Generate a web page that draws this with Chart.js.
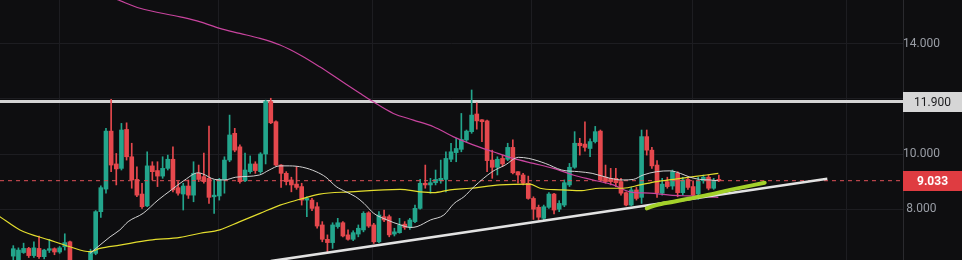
<!DOCTYPE html>
<html>
<head>
<meta charset="utf-8">
<script src="https://cdn.jsdelivr.net/npm/chart.js@4.4.1/dist/chart.umd.min.js"></script>
<style>
  html, body { margin: 0; padding: 0; background: #0e0e10; }
  canvas { display: block; }
</style>
</head>
<body>
<canvas id="chart" width="962" height="260"></canvas>
<script>
// Daily candles (index 0 = first candle on the left)
const opens = [6.30, 6.10, 6.43, 6.58, 6.32, 6.58, 6.28, 6.51, 6.57, 6.45,
  6.64, 6.82, 6.00, 5.80, 5.70, 6.00, 6.40, 7.91, 8.73, 10.83,
  9.64, 9.48, 10.89, 9.90, 9.08, 8.55, 8.12, 9.57, 9.40, 9.20,
  9.48, 9.81, 8.78, 8.55, 8.84, 8.51, 9.30, 9.18, 9.12, 8.45,
  8.48, 9.08, 9.78, 10.75, 10.26, 9.03, 9.36, 9.64, 9.36, 10.00,
  11.90, 11.17, 9.60, 9.30, 9.06, 8.91, 8.82, 8.33, 8.33, 8.09,
  7.43, 6.91, 6.79, 7.37, 7.51, 7.07, 6.91, 7.10, 7.25, 7.87,
  7.43, 6.82, 7.73, 7.73, 7.10, 7.15, 7.46, 7.34, 7.55, 8.03,
  8.94, 8.88, 8.96, 9.03, 9.08, 9.81, 10.05, 10.17, 10.51, 10.81,
  11.45, 11.24, 11.20, 9.78, 9.52, 9.84, 9.81, 10.24, 9.36, 9.24,
  8.94, 8.39, 8.07, 7.67, 8.07, 8.55, 8.00, 8.15, 8.88, 9.52,
  10.39, 10.36, 10.20, 10.45, 10.83, 9.16, 9.12, 9.12, 9.00, 8.60,
  8.15, 8.70, 8.43, 10.63, 10.14, 9.60, 8.58, 9.00, 8.84, 9.30,
  8.60, 9.08, 8.82, 8.55, 9.03, 9.16, 8.76, 9.08];
const highs = [6.68, 6.60, 6.77, 6.62, 6.82, 7.03, 6.55, 6.91, 6.60, 6.65,
  7.11, 6.85, 6.05, 5.95, 6.00, 6.55, 7.95, 8.85, 10.93, 11.98,
  10.02, 11.11, 11.13, 10.39, 9.54, 8.94, 10.08, 9.72, 9.72, 9.90,
  9.96, 10.26, 9.00, 8.94, 9.06, 9.72, 9.60, 10.03, 11.01, 9.06,
  9.12, 9.90, 11.41, 10.93, 10.33, 10.03, 9.93, 9.72, 10.05, 11.95,
  12.02, 11.20, 9.62, 9.36, 9.16, 9.54, 8.94, 8.45, 8.39, 8.24,
  7.55, 7.07, 7.51, 7.67, 7.55, 7.25, 7.22, 7.43, 7.91, 7.91,
  7.49, 7.91, 7.97, 7.79, 7.31, 7.67, 7.55, 7.67, 8.15, 9.08,
  9.60, 9.12, 9.42, 9.78, 10.08, 10.39, 10.57, 11.47, 10.87, 12.32,
  11.85, 11.25, 11.23, 10.14, 9.90, 9.96, 10.39, 10.51, 9.36, 9.30,
  9.20, 8.45, 8.15, 8.15, 8.60, 8.58, 8.31, 9.06, 9.66, 10.81,
  10.57, 11.17, 10.55, 11.00, 10.87, 9.60, 9.48, 9.48, 9.12, 8.63,
  8.79, 8.79, 10.87, 10.87, 10.24, 9.76, 9.12, 9.16, 9.42, 9.36,
  9.16, 9.16, 9.03, 9.16, 9.24, 9.24, 9.12, 9.24];
const lows = [6.00, 6.00, 6.40, 6.25, 6.25, 6.22, 6.20, 6.43, 6.35, 6.40,
  6.52, 5.90, 5.60, 5.50, 5.60, 5.90, 6.35, 7.70, 8.58, 9.36,
  8.88, 9.42, 9.78, 8.76, 8.45, 8.03, 8.09, 9.06, 8.82, 9.12,
  9.42, 8.63, 8.51, 7.97, 8.39, 8.27, 9.00, 8.94, 8.21, 7.85,
  8.33, 8.58, 9.72, 10.08, 8.94, 9.00, 9.30, 9.30, 9.30, 9.64,
  11.10, 9.57, 8.79, 8.88, 8.63, 8.72, 8.15, 7.73, 7.95, 7.31,
  6.82, 6.43, 6.58, 7.31, 7.00, 6.88, 6.86, 7.00, 7.18, 7.34,
  6.76, 6.79, 7.55, 7.00, 7.03, 7.13, 7.27, 7.27, 7.51, 8.00,
  8.76, 8.58, 8.88, 8.94, 8.63, 9.72, 9.72, 10.08, 10.45, 10.75,
  10.90, 10.45, 9.36, 9.12, 9.24, 9.54, 9.76, 9.28, 8.94, 8.88,
  8.36, 7.63, 7.61, 7.61, 8.03, 7.83, 7.91, 8.09, 8.82, 9.48,
  9.96, 10.10, 9.90, 10.40, 9.00, 8.94, 8.88, 8.82, 8.51, 8.12,
  8.12, 8.33, 8.21, 9.96, 9.48, 8.43, 8.51, 8.76, 8.72, 8.45,
  8.51, 8.72, 8.45, 8.36, 8.94, 8.70, 8.72, 9.00];
const closes = [6.57, 6.52, 6.58, 6.32, 6.60, 6.28, 6.52, 6.57, 6.45, 6.60,
  6.79, 6.00, 5.80, 5.70, 5.90, 6.46, 7.91, 8.78, 10.83, 9.60,
  9.46, 10.87, 9.90, 9.06, 8.51, 8.09, 9.57, 9.36, 9.20, 9.48,
  9.81, 8.70, 8.58, 8.84, 8.51, 9.30, 9.08, 9.00, 8.43, 8.51,
  9.08, 9.78, 10.69, 10.14, 9.00, 9.42, 9.64, 9.40, 10.00, 11.90,
  11.13, 9.60, 9.30, 9.00, 8.88, 8.79, 8.33, 8.39, 8.03, 7.39,
  6.91, 6.79, 7.43, 7.51, 7.03, 6.91, 7.15, 7.31, 7.85, 7.39,
  6.82, 7.79, 7.61, 7.07, 7.18, 7.43, 7.34, 7.61, 8.03, 8.94,
  8.88, 8.96, 9.08, 9.12, 9.84, 10.08, 10.20, 10.53, 10.83, 11.41,
  11.20, 11.17, 9.76, 9.52, 9.81, 9.64, 10.24, 9.32, 9.24, 8.94,
  8.39, 8.00, 7.71, 8.09, 8.55, 7.97, 8.21, 8.96, 9.52, 10.39,
  10.30, 10.24, 10.45, 10.81, 9.06, 9.00, 9.00, 8.96, 8.58, 8.15,
  8.70, 8.39, 10.63, 10.14, 9.57, 8.60, 8.91, 8.82, 9.36, 8.60,
  9.06, 8.79, 8.51, 9.03, 9.16, 8.76, 9.03, 9.033];

// Moving averages as [candle index, price]
const maFast = [[14.9, 6.40], [18.8, 7.00], [20.7, 7.25], [22.3, 7.55], [25.2, 7.85],
  [28.1, 8.33], [30.7, 8.70], [33.3, 9.06], [35.9, 9.32], [36.8, 9.28], [39.1, 9.08],
  [41.0, 9.06], [43.2, 9.16], [47.8, 9.24], [49.7, 9.42], [51.7, 9.57], [53.6, 9.57],
  [56.2, 9.52], [58.8, 9.36], [60.7, 9.16], [62.7, 8.82], [64.6, 8.63], [66.5, 8.45],
  [68.1, 8.21], [70.0, 7.85], [72.6, 7.61], [75.2, 7.43], [77.2, 7.34], [78.4, 7.37],
  [81.0, 7.61], [83.6, 7.79], [85.6, 8.21], [87.5, 8.45], [89.5, 8.82], [93.0, 9.36],
  [95.5, 9.60], [98.1, 9.88], [100.1, 9.84], [103.3, 9.66], [106.5, 9.42], [109.8, 9.36],
  [112.4, 9.30], [115.9, 9.12], [118.4, 9.06], [120.4, 9.08], [122.3, 9.24], [124.9, 9.36],
  [127.5, 9.39], [129.5, 9.30], [131.4, 9.16], [133.3, 9.08], [135.3, 9.06], [136.9, 9.03]];
const maMid = [[-2.6, 7.73], [1.3, 7.25], [7.1, 6.88], [11.0, 6.64], [14.9, 6.46],
  [16.8, 6.58], [20.7, 6.70], [26.5, 6.88], [32.4, 6.98], [36.3, 7.13], [40.1, 7.25],
  [44.0, 7.55], [47.9, 7.85], [51.8, 8.15], [55.7, 8.36], [59.5, 8.55], [65.4, 8.63],
  [75.1, 8.72], [79.0, 8.63], [81.6, 8.60], [84.8, 8.70], [88.7, 8.76], [94.5, 8.88],
  [100.3, 8.91], [102.3, 8.76], [106.2, 8.70], [110.0, 8.67], [113.9, 8.76], [118.4, 8.76],
  [121.7, 8.88], [124.9, 9.00], [128.2, 9.08], [131.4, 9.16], [134.6, 9.24], [136.9, 9.30]];
const maSlow = [[-2.6, 17.21], [20.4, 15.58], [24.6, 15.28], [32.4, 14.97], [36.3, 14.79],
  [40.1, 14.55], [44.0, 14.37], [47.9, 14.19], [51.8, 13.95], [55.7, 13.59], [59.5, 13.16],
  [63.4, 12.68], [67.3, 12.20], [69.9, 11.89], [73.8, 11.47], [77.7, 11.23], [81.6, 10.99],
  [85.4, 10.63], [89.3, 10.33], [93.2, 10.08], [97.1, 9.84], [101.0, 9.66], [104.9, 9.48],
  [108.7, 9.24], [112.6, 9.06], [116.5, 8.88], [119.7, 8.63], [123.6, 8.58], [127.5, 8.51],
  [131.4, 8.48], [135.3, 8.45], [136.9, 8.43]];

// Drawings on the chart
const resistance = 11.9;
const lastPrice = 9.033;
const trendLine = [[50, 6.12], [158.06, 9.105]];
const brushLine = [[123.0, 8.03], [124.9, 8.15], [128.2, 8.27], [131.4, 8.39],
  [134.6, 8.51], [139.2, 8.70], [145.9, 8.96]];

// Axis ticks
const priceTicks = [8, 10, 12, 14];
const monthGrid = [9.07, 39.94, 69.84, 100.72, 131.79, 161.88];
const xMin = -2.58, xMax = 172.76;
const yMin = 6.16, yMax = 15.58;

const UP = '#23a58c';
const DOWN = '#e5484d';

const toPoints = pairs => pairs.map(([x, y]) => ({ x, y }));
const candleColors = opens.map((o, i) => closes[i] >= o ? UP : DOWN);

function lineSet(points, color, width, order, extra) {
  return Object.assign({
    type: 'line',
    data: toPoints(points),
    borderColor: color,
    borderWidth: width,
    pointRadius: 0,
    tension: 0.4,
    cubicInterpolationMode: 'monotone',
    order: order
  }, extra || {});
}

// Price tags drawn on the right scale for the two horizontal levels
function drawTag(chart, value, bg, fg, weight) {
  const { ctx, chartArea, scales } = chart;
  const yPix = scales.y.getPixelForValue(value);
  const left = chartArea.right;
  const w = chart.width - left;
  ctx.save();
  ctx.fillStyle = bg;
  ctx.fillRect(left, Math.round(yPix) - 10, w, 20);
  ctx.fillStyle = fg;
  ctx.font = weight + ' 12px Roboto';
  ctx.textAlign = 'center';
  ctx.textBaseline = 'middle';
  ctx.fillText(value.toFixed(3), left + w / 2, Math.round(yPix) + 0.5);
  ctx.restore();
}

const priceTags = {
  id: 'priceTags',
  afterDraw(chart) {
    drawTag(chart, resistance, '#d6d6d6', '#1b1b1d', 'normal');
    drawTag(chart, lastPrice, '#df3c41', '#ffffff', 'bold');
  }
};

// Keep the plot flush with the canvas edges
function noPadding(s) {
  s.paddingTop = 0;
  s.paddingBottom = 0;
  s.paddingLeft = 0;
  s.paddingRight = 0;
}

const datasets = [
  lineSet(brushLine, '#a3d12a', 4, 0, { borderCapStyle: 'round', tension: 0.3 }),
  lineSet(trendLine, '#e2e2e2', 2.5, 1, { tension: 0 }),
  lineSet(maFast, '#d2d2d2', 1, 2),
  lineSet(maMid, '#e3dd2e', 1.2, 3),
  lineSet(maSlow, '#c8449e', 1.2, 4),
  lineSet([[xMin, lastPrice], [xMax, lastPrice]], '#e05258', 1, 5, { tension: 0, borderDash: [4, 4] }),
  {
    type: 'bar',
    data: opens.map((o, i) => ({ x: i, y: [o, closes[i]] })),
    backgroundColor: candleColors,
    barThickness: 4,
    minBarLength: 1,
    grouped: false,
    order: 6
  },
  {
    type: 'bar',
    data: lows.map((l, i) => ({ x: i, y: [l, highs[i]] })),
    backgroundColor: candleColors,
    barThickness: 1,
    grouped: false,
    order: 7
  },
  lineSet([[xMin, resistance], [xMax, resistance]], '#d4d4d4', 3, 8, { tension: 0 })
];

new Chart(document.getElementById('chart'), {
  data: { datasets: datasets },
  options: {
    responsive: false,
    animation: false,
    events: [],
    layout: { padding: 0 },
    plugins: { legend: { display: false }, tooltip: { enabled: false } },
    scales: {
      x: {
        type: 'linear',
        min: xMin,
        max: xMax,
        offset: false,
        grid: { color: '#1d1d21', drawTicks: false, offset: false },
        border: { display: false },
        ticks: { display: false },
        afterBuildTicks: s => { s.ticks = monthGrid.map(v => ({ value: v })); },
        afterFit: s => { s.height = 0; noPadding(s); }
      },
      y: {
        position: 'right',
        min: yMin,
        max: yMax,
        grid: { color: '#1d1d21', drawTicks: false },
        border: { display: true, color: '#2a2a2e' },
        ticks: {
          color: '#9a9ea6',
          font: { family: 'Roboto', size: 12 },
          crossAlign: 'center',
          padding: 0,
          callback: v => v.toFixed(3)
        },
        afterBuildTicks: s => { s.ticks = priceTicks.map(v => ({ value: v })); },
        afterFit: s => { s.width = 59; noPadding(s); }
      }
    }
  },
  plugins: [priceTags]
});
</script>
</body>
</html>
